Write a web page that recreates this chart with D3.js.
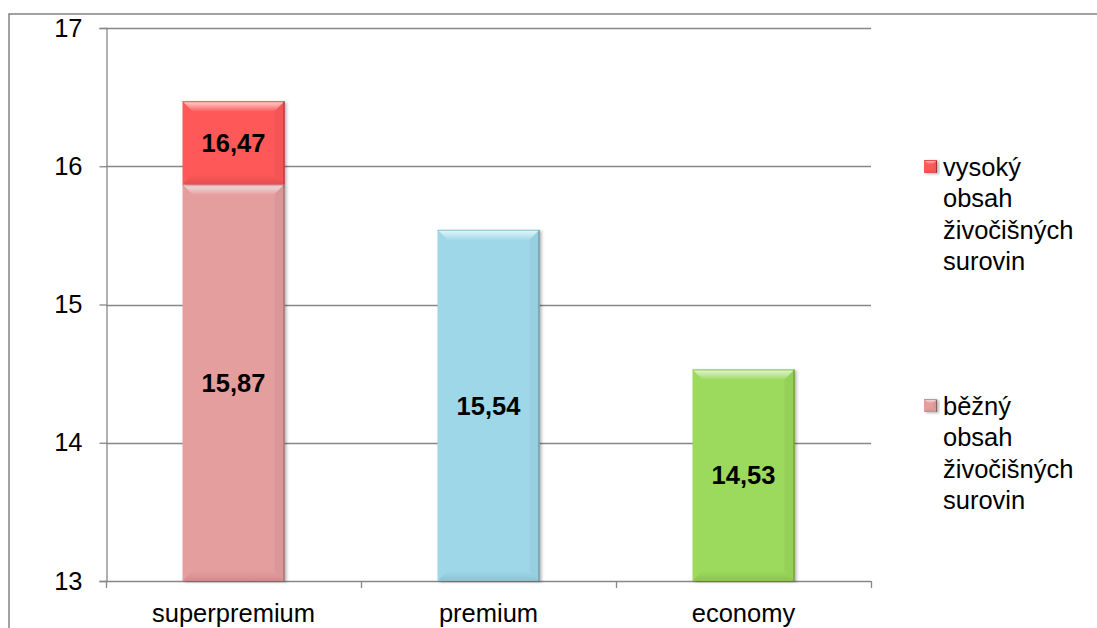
<!DOCTYPE html>
<html>
<head>
<meta charset="utf-8">
<script src="https://cdn.jsdelivr.net/npm/d3@7/dist/d3.min.js"></script>
<style>
  html, body { margin: 0; padding: 0; background: #fff; }
  svg { display: block; font-family: Arial, "Liberation Sans", sans-serif; }
</style>
</head>
<body>
<svg id="chart" width="1097" height="628"></svg>
<script>
// Categories and values
const categories = ["superpremium", "premium", "economy"];
const baseValues = [15.87, 15.54, 14.53];      // běžný obsah
const topValues  = [16.47, null, null];        // vysoký obsah (stack end)
const baseColors = ["#E59E9E", "#9ED8E8", "#9BDA5C"];
const topColor   = "#FF5858";
const yTicks     = [13, 14, 15, 16, 17];
const legendItems = [
  { lines: ["vysoký", "obsah", "živočišných", "surovin"], color: "#FF5858" },
  { lines: ["běžný", "obsah", "živočišných", "surovin"], color: "#E59E9E" }
];
const fmt = v => v.toFixed(2).replace(".", ",");

const svg = d3.select("#chart");
const axisColor = "#878787";

// Outer chart frame
svg.append("rect")
  .attr("x", 9).attr("y", 14).attr("width", 1200).attr("height", 700)
  .attr("fill", "none").attr("stroke", "#8a8a8a").attr("stroke-width", 1.6);

const plot = { left: 106, right: 871, top: 28, bottom: 581 };

const y = d3.scaleLinear().domain([13, 17]).range([plot.bottom, plot.top]);
const x = d3.scaleBand().domain(categories)
  .range([plot.left, plot.right]).paddingInner(0.6).paddingOuter(0.3);

// Drop shadow for the bars
const defs = svg.append("defs");
const f = defs.append("filter").attr("id", "shadow")
  .attr("x", "-20%").attr("y", "-20%").attr("width", "140%").attr("height", "140%");
f.append("feDropShadow").attr("dx", 2).attr("dy", 1).attr("stdDeviation", 1.6)
  .attr("flood-color", "#000").attr("flood-opacity", 0.3);

// Gridlines
svg.append("g").selectAll("line").data(yTicks).join("line")
  .attr("x1", plot.left).attr("x2", plot.right)
  .attr("y1", d => Math.round(y(d)) + 0.5).attr("y2", d => Math.round(y(d)) + 0.5)
  .attr("stroke", axisColor).attr("stroke-width", 1.3);

// Y axis
const yAxis = svg.append("g")
  .attr("transform", `translate(${plot.left + 0.5},0)`)
  .call(d3.axisLeft(y).tickValues(yTicks).tickSize(7).tickPadding(17).tickFormat(d3.format("d")));
yAxis.select(".domain").attr("stroke", axisColor).attr("stroke-width", 1.3);
yAxis.selectAll(".tick line").attr("stroke", axisColor).attr("stroke-width", 1.3);
yAxis.selectAll(".tick text").attr("font-size", 25.5).attr("fill", "#000")
  .attr("font-family", "Arial, 'Liberation Sans', sans-serif");

// X axis: ticks between categories
const xTickPos = d3.range(categories.length + 1).map(i => plot.left + i * (plot.right - plot.left) / categories.length);
svg.append("g").selectAll("line").data(xTickPos).join("line")
  .attr("x1", d => Math.round(d) + 0.5).attr("x2", d => Math.round(d) + 0.5)
  .attr("y1", plot.bottom).attr("y2", plot.bottom + 7)
  .attr("stroke", axisColor).attr("stroke-width", 1.3);
svg.append("g").selectAll("text").data(categories).join("text")
  .attr("x", d => x(d) + x.bandwidth() / 2)
  .attr("y", 622)
  .attr("text-anchor", "middle").attr("font-size", 25.5).attr("fill", "#000")
  .text(d => d);

// Vertical gradients for the bevel faces
let gradId = 0;
function vGrad(c1, o1, c2, o2) {
  const id = "g" + (gradId++);
  const g = defs.append("linearGradient").attr("id", id)
    .attr("x1", 0).attr("y1", 0).attr("x2", 0).attr("y2", 1);
  g.append("stop").attr("offset", 0).attr("stop-color", c1).attr("stop-opacity", o1);
  g.append("stop").attr("offset", 1).attr("stop-color", c2).attr("stop-opacity", o2);
  return `url(#${id})`;
}

// Beveled bar drawing
function bevelBar(g, x0, y0, w, h, color, bevel) {
  const b = Math.min(bevel, h / 2);
  const c = d3.color(color);
  const grp = g.append("g");
  grp.append("rect").attr("x", x0).attr("y", y0).attr("width", w).attr("height", h)
    .attr("fill", color).attr("filter", "url(#shadow)");
  const poly = (pts, fill) => grp.append("polygon")
    .attr("points", pts.map(p => p.join(",")).join(" "))
    .attr("fill", fill);
  // right face, slightly darker
  poly([[x0 + w, y0], [x0 + w - b, y0 + b], [x0 + w - b, y0 + h - b], [x0 + w, y0 + h]],
       c.darker(0.12).toString());
  // bottom face
  poly([[x0, y0 + h], [x0 + w, y0 + h], [x0 + w - b, y0 + h - b], [x0 + b, y0 + h - b]],
       vGrad(color, 1, c.darker(0.3).toString(), 1));
  // top highlight
  poly([[x0, y0], [x0 + w, y0], [x0 + w - b, y0 + b], [x0 + b, y0 + b]],
       vGrad("#ffffff", 0.75, "#ffffff", 0.05));
  // thin dark right edge
  grp.append("line").attr("x1", x0 + w - 0.5).attr("x2", x0 + w - 0.5)
    .attr("y1", y0).attr("y2", y0 + h).attr("stroke", c.darker(1.4).toString()).attr("stroke-width", 1);
  // thin darker top edge line
  grp.append("line").attr("x1", x0).attr("x2", x0 + w)
    .attr("y1", y0 + 0.5).attr("y2", y0 + 0.5).attr("stroke", c.darker(0.3).toString()).attr("stroke-width", 1);
}

const bars = svg.append("g");
categories.forEach((cat, i) => {
  const bx = x(cat), bw = x.bandwidth();
  bevelBar(bars, bx, y(baseValues[i]), bw, y(13) - y(baseValues[i]), baseColors[i], 10);
  if (topValues[i] != null) {
    bevelBar(bars, bx, y(topValues[i]), bw, y(baseValues[i]) - y(topValues[i]), topColor, 10);
  }
});

// Value labels
const labels = svg.append("g").attr("font-size", 25.5).attr("font-weight", "bold")
  .attr("text-anchor", "middle").attr("fill", "#000");
categories.forEach((cat, i) => {
  const cx = x(cat) + x.bandwidth() / 2;
  labels.append("text").attr("x", cx).attr("y", (y(13) + y(baseValues[i])) / 2)
    .attr("dy", "0.36em").text(fmt(baseValues[i]));
  if (topValues[i] != null) {
    labels.append("text").attr("x", cx).attr("y", (y(baseValues[i]) + y(topValues[i])) / 2)
      .attr("dy", "0.36em").text(fmt(topValues[i]));
  }
});

// Legend
const legendTops = [167, 406];
const legend = svg.append("g");
legendItems.forEach((item, i) => {
  const ly = legendTops[i];
  bevelBar(legend, 924, ly - 7, 13, 13, item.color, 4);
  const t = legend.append("text").attr("x", 943).attr("y", ly).attr("font-size", 25.5)
    .attr("fill", "#000");
  item.lines.forEach((ln, k) => {
    t.append("tspan").attr("x", 943).attr("y", ly + k * 31.3).attr("dy", "0.36em").text(ln);
  });
});
</script>
</body>
</html>
